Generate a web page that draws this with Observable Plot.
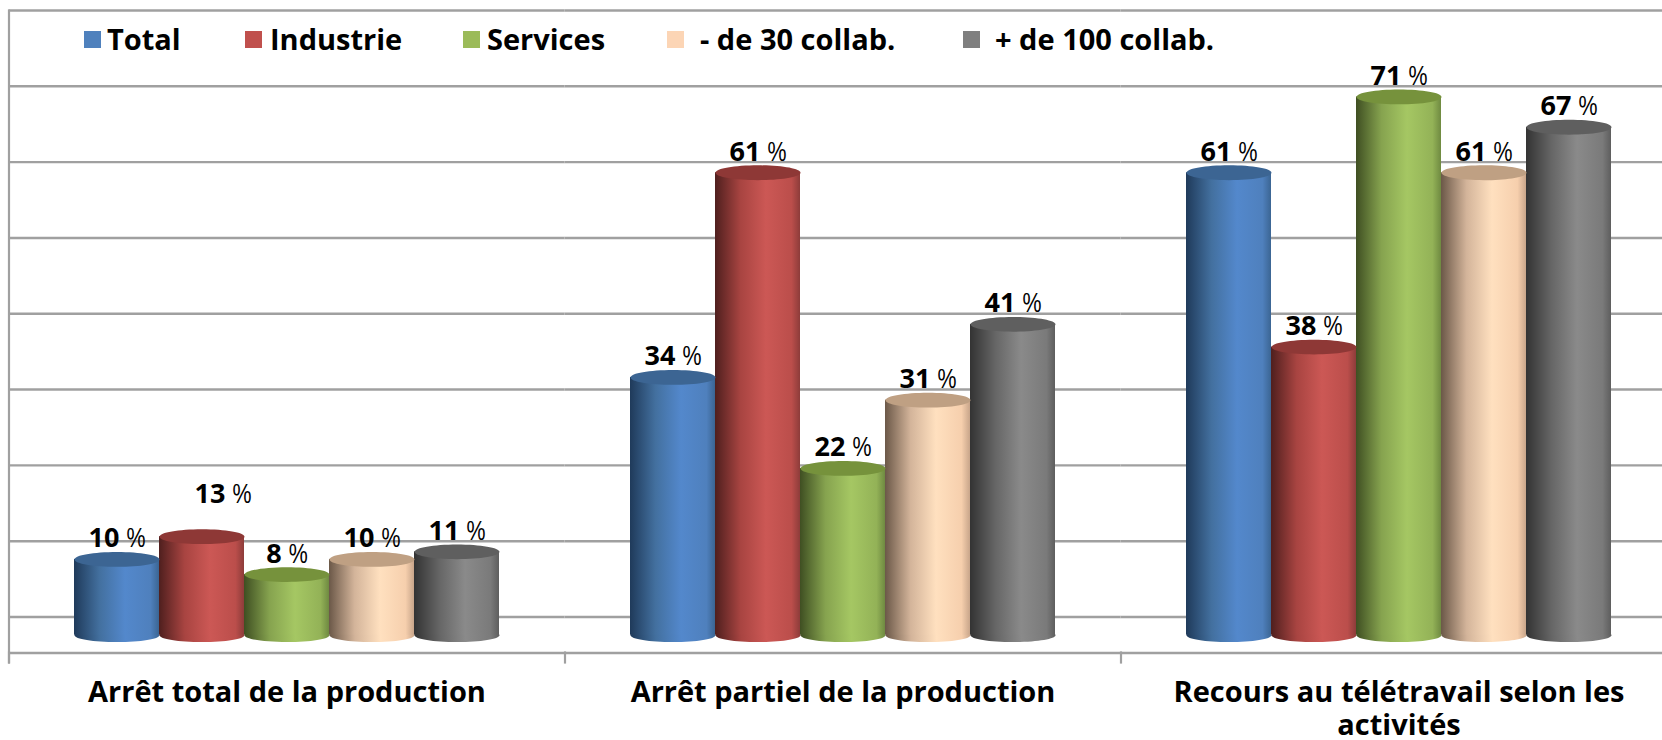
<!DOCTYPE html>
<html lang="fr">
<head>
<meta charset="utf-8">
<script src="https://cdn.jsdelivr.net/npm/d3@7"></script>
<script src="https://cdn.jsdelivr.net/npm/@observablehq/plot@0.6"></script>
<style>
html,body{margin:0;padding:0;background:#fff;overflow:hidden}
#wrap{position:relative;width:1662px;height:740px}
#legend{position:absolute;left:0;top:0;font:700 29px "Open Sans",sans-serif;color:#000}
#legend span{position:absolute;white-space:nowrap;line-height:38px;top:20px}
#legend i{position:absolute;top:31px;width:17px;height:17px}
</style>
</head>
<body>
<div id="wrap"><div id="chart"></div><div id="legend"></div></div>
<script>
const categories = ["Arrêt total de la production", "Arrêt partiel de la production", "Recours au télétravail selon les\nactivités"];
const seriesNames = ["Total", "Industrie", "Services", " - de 30 collab.", " + de 100 collab."];
const totalValues = [10, 34, 61];
const industrieValues = [13, 61, 38];
const servicesValues = [8, 22, 71];
const moins30Values = [10, 31, 61];
const plus100Values = [11, 41, 67];
const gridValues = [2.4, 12.4, 22.4, 32.4, 42.4, 52.4, 62.4, 72.4, 82.4];
const legendColors = ["#4f81bd", "#c0504d", "#9bbb59", "#fcd5b5", "#7f7f7f"];
const capColors = ["#3c6593", "#8e3836", "#76923c", "#bfa083", "#5f5f5f"];
const shades = [
  ["#1f3a5a", "#43709f", "#5388cc", "#4f80bd", "#3b6593"],
  ["#4f1f1e", "#a84441", "#cc5855", "#bb4e4b", "#8d3c3a"],
  ["#3f4f22", "#86a34f", "#a5c763", "#93b257", "#6f8a41"],
  ["#6b5848", "#d3b49a", "#ffe0bf", "#f6cfad", "#c8a58a"],
  ["#333333", "#666666", "#8a8a8a", "#7a7a7a", "#5e5e5e"]
];
const legendX = [[84, 107], [245, 270], [463, 487], [667, 700], [963, 995]];

const allValues = [totalValues, industrieValues, servicesValues, moins30Values, plus100Values];
const rows = seriesNames.flatMap((s, i) => categories.map((c, j) => ({category: c, series: s, index: i, value: allValues[i][j]})));

function ellipse(rx, ry) {
  const k = 0.5523;
  return {draw(c) {
    c.moveTo(-rx, 0);
    c.bezierCurveTo(-rx, -ry * k, -rx * k, -ry, 0, -ry);
    c.bezierCurveTo(rx * k, -ry, rx, -ry * k, rx, 0);
    c.bezierCurveTo(rx, ry * k, rx * k, ry, 0, ry);
    c.bezierCurveTo(-rx * k, ry, -rx, ry * k, -rx, 0);
    c.closePath();
  }};
}
const gradientDefs = () => {
  const defs = d3.create("svg:defs");
  shades.forEach((s, i) => {
    const g = defs.append("linearGradient").attr("id", `cyl${i}`);
    [0, 0.3, 0.6, 0.9, 1].forEach((o, j) =>
      g.append("stop").attr("offset", o).attr("stop-color", s[j]));
  });
  return defs.node();
};
const isRaised = d => d.value === 13;
const valueLabel = d => `${d.value} %`;
const fill = d => `url(#cyl${d.index})`;
const textStyle = {fontFamily: "'Open Sans',sans-serif", fontWeight: 700, fontSize: 27, fill: "#000", lineAnchor: "bottom", text: valueLabel, className: "val", x: "series", y: "value", fx: "category"};

const chart = Plot.plot({
  width: 1662, height: 740,
  marginLeft: 8.5, marginRight: -14.5, marginTop: 10, marginBottom: 78,
  style: {background: "#fff", overflow: "hidden"},
  fx: {domain: categories, padding: 0, axis: null, round: false},
  x: {domain: seriesNames, paddingInner: 0, paddingOuter: 0.7706, axis: null, round: false},
  y: {domain: [-3.6, 82.4], axis: null},
  color: {type: "identity"},
  marks: [
    gradientDefs,
    Plot.ruleY(gridValues, {y: d => d, stroke: "#a0a0a0", strokeWidth: 2.4}),
    Plot.ruleY([-2.35], {y: d => d, stroke: "#a0a0a0", strokeWidth: 2.4}),
    Plot.frame({anchor: "left", stroke: "#a0a0a0", strokeWidth: 2.2, facet: "super"}),
    Plot.frame({anchor: "left", stroke: "#a0a0a0", strokeWidth: 2.2, insetTop: 642}),
    Plot.dot(rows, {x: "series", y: () => 0, fx: "category", symbol: ellipse(42.5, 6.8), fill, stroke: "none"}),
    Plot.barY(rows, {x: "series", y: "value", fx: "category", fill}),
    Plot.dot(rows, {x: "series", y: "value", fx: "category", symbol: ellipse(42.5, 7.4), fill: d => capColors[d.index], stroke: "none"}),
    Plot.text(rows.filter(d => !isRaised(d)), {...textStyle, dy: -12}),
    Plot.text(rows.filter(isRaised), {...textStyle, dy: -34, dx: 21}),
    Plot.axisFx({anchor: "bottom", label: null, tickSize: 0, tickPadding: 16, fontSize: 29, fontWeight: 700, fontFamily: "'Open Sans',sans-serif", fill: "#000", lineHeight: 1.14})
  ]
});
d3.select(chart).selectAll(".val text").each(function () {
  const t = d3.select(this), s = t.text().replace(" %", "");
  t.text(null);
  t.append("tspan").text(s + " ");
  t.append("tspan").attr("font-weight", 400).attr("font-family", "'Liberation Sans','Open Sans',sans-serif").attr("font-size", 27).attr("textLength", 19).attr("lengthAdjust", "spacingAndGlyphs").text("%");
});
document.getElementById("chart").append(chart);

const legend = d3.select("#legend");
seriesNames.forEach((s, i) => {
  legend.append("i").style("left", legendX[i][0] + "px").style("background", legendColors[i]);
  legend.append("span").style("left", legendX[i][1] + "px").text(s.trim());
});
</script>
</body>
</html>
